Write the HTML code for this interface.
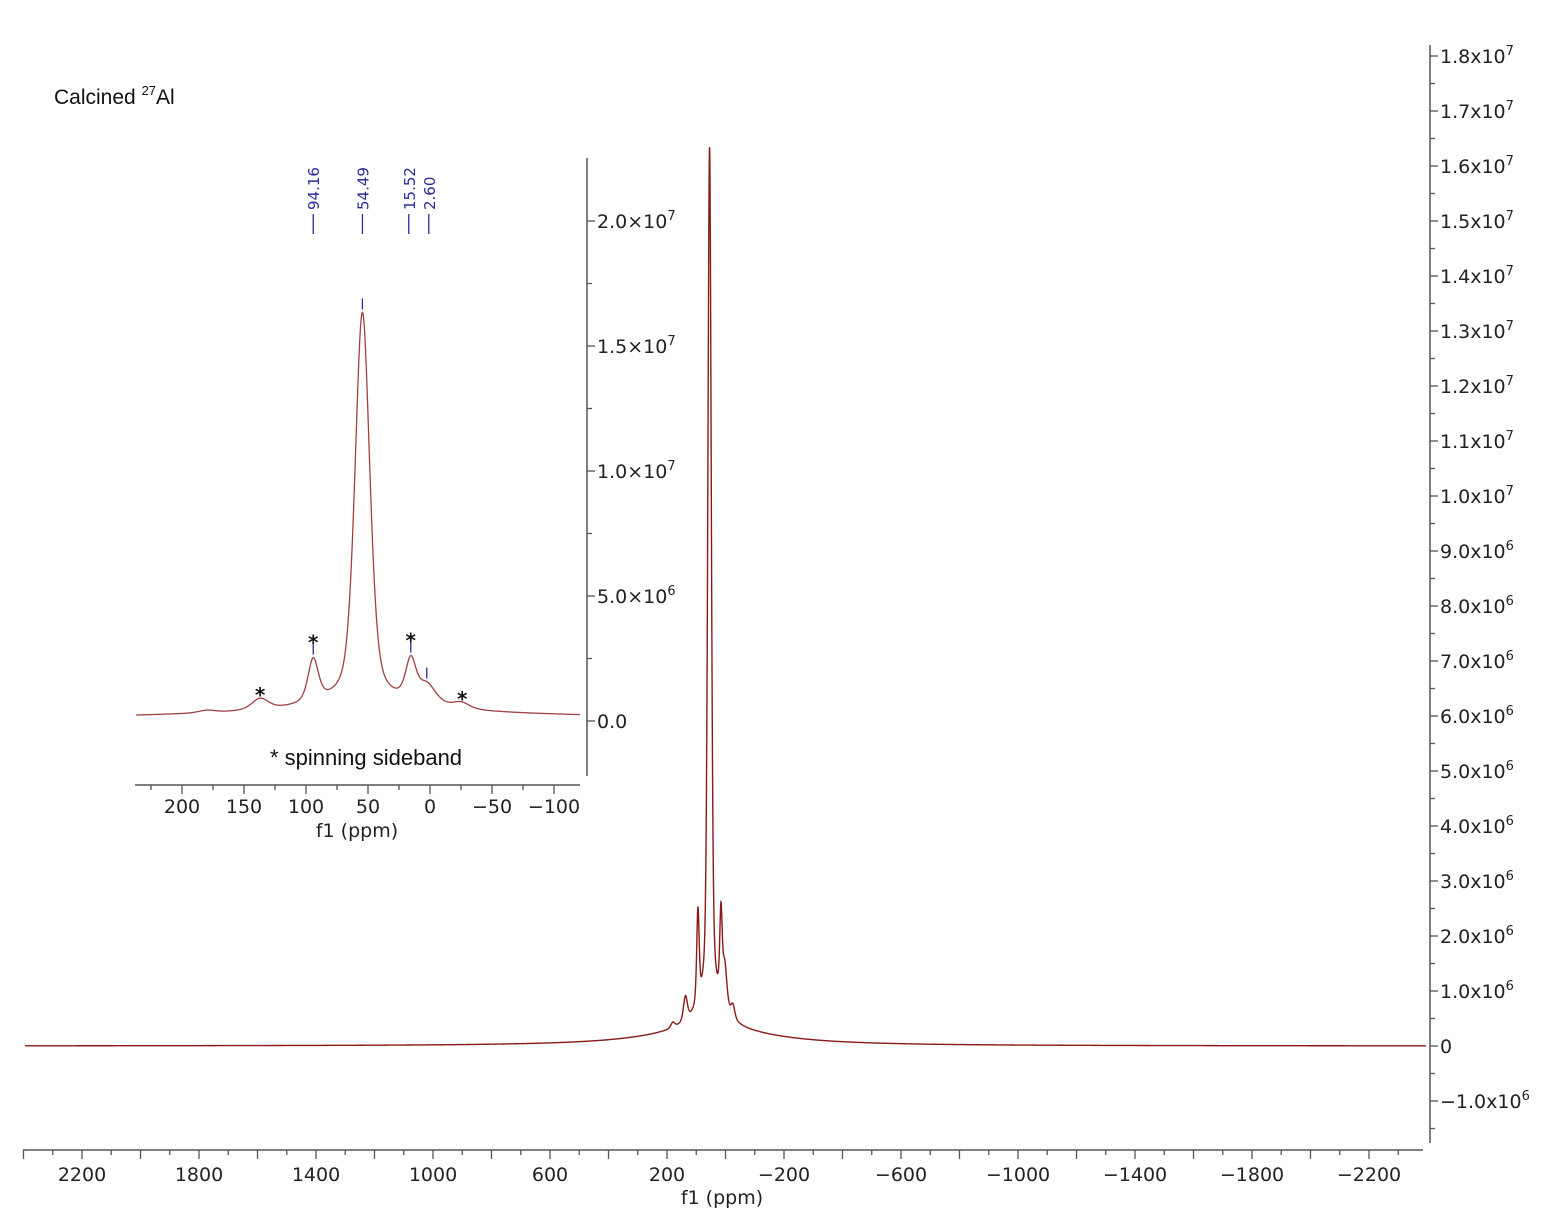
<!DOCTYPE html>
<html><head><meta charset="utf-8"><style>
html,body{margin:0;padding:0;background:#fff;}
svg{display:block;font-family:"DejaVu Sans","Liberation Sans",sans-serif;}
</style></head><body>
<svg id="chart" width="1550" height="1226" viewBox="0 0 1550 1226" xmlns="http://www.w3.org/2000/svg">
<text x="54" y="104" font-family="Liberation Sans, sans-serif" font-size="21" fill="#111">Calcined <tspan font-size="13" dy="-9">27</tspan><tspan dy="9">Al</tspan></text>
<g id="main"></g>
<g id="inset"></g>
</svg>
<script>
// Peak model data (ppm, height, half-width, lorentz fraction)
const peakCenters = [54.5, 94.2, 15.5, 2.6, 137, -25, 180, 55, 50];
const peakHeights = [15.4e6, 1.7e6, 1.55e6, 0.8e6, 0.45e6, 0.25e6, 0.1e6, 0.6e6, 0.3e6];
const peakWidths  = [7, 5, 5, 9, 8, 8, 8, 45, 250];
const peakLorentz = [0.4, 0.5, 0.5, 0.6, 0.5, 0.5, 0.5, 1, 1];
const insetPeakLabels = ["94.16", "54.49", "15.52", "2.60"];
const insetPeakPpm = [94.16, 54.49, 15.52, 2.60];
const sidebandPpm = [137, 94.2, 15.5, -26];
const mainYTicks = [18,17,16,15,14,13,12,11,10,9,8,7,6,5,4,3,2,1,0,-1];
const mainXTicks = [2200,1800,1400,1000,600,200,-200,-600,-1000,-1400,-1800,-2200];
const insetXTicks = [200,150,100,50,0,-50,-100];
const insetYTicks = [0,5,10,15,20];

const NS="http://www.w3.org/2000/svg";
function mk(tag, attrs, parent){const e=document.createElementNS(NS,tag);for(const k in attrs)e.setAttribute(k,attrs[k]);parent.appendChild(e);return e;}
function spec(p){let s=0;for(let i=0;i<peakCenters.length;i++){const d=(p-peakCenters[i])/peakWidths[i];const L=1/(1+d*d);const G=Math.exp(-0.693*d*d);s+=peakHeights[i]*(peakLorentz[i]*L+(1-peakLorentz[i])*G);}return s;}

// ---------- main ----------
const main=document.getElementById('main');
const mx=p=>725.5-0.2925*p;
const my=v=>1046-55*v/1e6;
mk('line',{x1:23,y1:1150,x2:1423,y2:1150,stroke:'#555','stroke-width':1.5,},main);
for(let p=2400;p>=-2400;p-=100){const x=mx(p);if(x<22||x>1424)continue;const major=(p%200===0);
 const t=mk('line',{x1:x,y1:1150,x2:x,y2:1150+(major?9:5),stroke:'#555','stroke-width':1.3},main);
 }
mainXTicks.forEach(p=>{const t=mk('text',{x:mx(p),y:1181,'text-anchor':'middle','font-size':19,fill:'#222'},main);t.textContent=String(p).replace('-','\u2212');
 });
const xt=mk('text',{x:722,y:1204,'text-anchor':'middle','font-size':19,fill:'#222',},main);xt.textContent='f1 (ppm)';
mk('line',{x1:1430,y1:45,x2:1430,y2:1143,stroke:'#555','stroke-width':1.5,},main);
for(let v=-1.5;v<=18.5;v+=0.5){const y=my(v*1e6);if(y<46||y>1142)continue;const major=Math.abs(v-Math.round(v))<1e-6;
 const t=mk('line',{x1:1430,y1:y,x2:1430+(major?8:5),y2:y,stroke:'#555','stroke-width':1.3},main);
 }
mainYTicks.forEach(v=>{const t=mk('text',{x:1440,y:my(v*1e6)+7,'font-size':19,fill:'#222'},main);
 if(v===0)t.textContent='0';else{const neg=v<0;const a=Math.abs(v);const e=a>=10?7:6;const m=(a>=10?a/10:a).toFixed(1);
 t.textContent=(neg?'\u2212':'')+m+'x10';const s=mk('tspan',{dy:-8,'font-size':13},t);s.textContent=String(e);}
 });
let d='';for(let p=2395;p>=-2395;p-=0.5){d+=(d?'L':'M')+mx(p).toFixed(2)+','+my(spec(p)).toFixed(2);}
mk('path',{d:d,fill:'none',stroke:'#8b1a1a','stroke-width':1.4,},main);

// ---------- inset ----------
const ins=document.getElementById('inset');
const ix=p=>430-1.24*p;
const iy=v=>721-125*v/5e6;
mk('line',{x1:135,y1:785,x2:580,y2:785,stroke:'#555','stroke-width':1.5,},ins);
for(let p=225;p>=-125;p-=25){const x=ix(p);if(x<135||x>580)continue;const major=p%50===0;
 const t=mk('line',{x1:x,y1:785,x2:x,y2:785+(major?9:5),stroke:'#555','stroke-width':1.3},ins);
 }
insetXTicks.forEach(p=>{const t=mk('text',{x:ix(p),y:813,'text-anchor':'middle','font-size':19,fill:'#222'},ins);t.textContent=String(p).replace('-','\u2212');
 });
const ixt=mk('text',{x:357,y:837,'text-anchor':'middle','font-size':19,fill:'#222',},ins);ixt.textContent='f1 (ppm)';
mk('line',{x1:587,y1:158,x2:587,y2:776,stroke:'#555','stroke-width':1.5,},ins);
for(let v=-2.5;v<=22.5;v+=2.5){const y=iy(v*1e6);if(y<159||y>775)continue;const major=Math.abs(v/5-Math.round(v/5))<1e-6;
 const t=mk('line',{x1:587,y1:y,x2:587+(major?8:5),y2:y,stroke:'#555','stroke-width':1.3},ins);
 }
insetYTicks.forEach(v=>{const t=mk('text',{x:597,y:iy(v*1e6)+7,'font-size':19,fill:'#222'},ins);
 if(v===0)t.textContent='0.0';else{const e=v>=10?7:6;const m=(v>=10?v/10:v).toFixed(1);t.textContent=m+'\u00d710';const s=mk('tspan',{dy:-8,'font-size':13},t);s.textContent=String(e);}
 });
let d2='';for(let p=237;p>=-121;p-=0.25){d2+=(d2?'L':'M')+ix(p).toFixed(2)+','+iy(spec(p)).toFixed(2);}
mk('path',{d:d2,fill:'none',stroke:'#a04040','stroke-width':1.3,},ins);
insetPeakPpm.forEach((p,i)=>{const x=ix(p);const off=(i===2?-2:(i===3?2:0));
 const t=mk('text',{transform:'translate('+(x+off+6)+',210) rotate(-90)','font-size':15,fill:'#2b2b9a'},ins);t.textContent=insetPeakLabels[i];
 
 const l=mk('line',{x1:x+off,y1:214,x2:x+off,y2:234,stroke:'#2b2b9a','stroke-width':1.3},ins);
 
 const top=iy(spec(p));const m=mk('line',{x1:x,y1:top-14,x2:x,y2:top-3,stroke:'#2b2b9a','stroke-width':1.3},ins);
 });
sidebandPpm.forEach(p=>{const y=iy(spec(p))+(Math.abs(p)>100||p<0?4:-8);const t=mk('text',{x:ix(p),y:y,'text-anchor':'middle','font-size':20,'font-weight':'bold',fill:'#111'},ins);t.textContent='*';
 });
const lg=mk('text',{x:270,y:765,'font-family':'Liberation Sans, sans-serif','font-size':22,fill:'#111',},ins);lg.textContent='* spinning sideband';
</script>
</body></html>
